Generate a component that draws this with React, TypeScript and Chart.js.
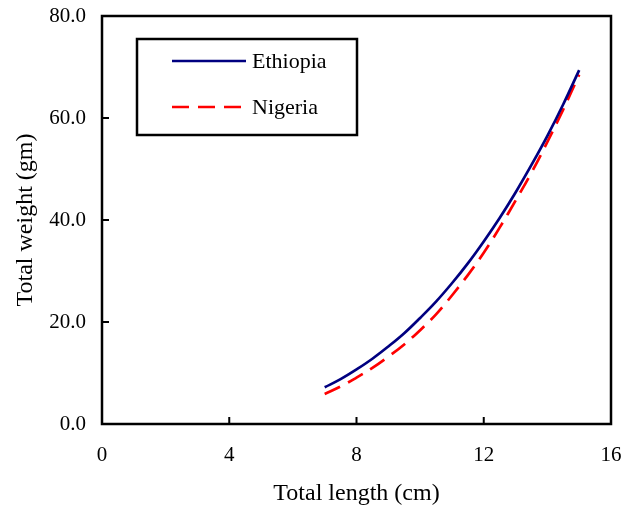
import React, { useEffect, useRef } from "react";
import { Chart, registerables } from "chart.js";

Chart.register(...registerables);

const lengths = [7, 7.5, 8, 8.5, 9, 9.5, 10, 10.5, 11, 11.5, 12, 12.5, 13, 13.5, 14, 14.5, 15];
const ethiopia = [7.2, 8.8, 10.7, 12.8, 15.2, 17.8, 20.8, 24.0, 27.6, 31.5, 35.8, 40.4, 45.4, 50.8, 56.5, 62.7, 69.4];
const nigeria = [5.9, 7.35, 9.1, 11.0, 13.2, 15.6, 18.4, 21.5, 25.2, 29.2, 33.6, 38.5, 43.8, 49.3, 55.3, 61.7, 68.5];
const seriesNames = ["Ethiopia", "Nigeria"];
const xTicks = [0, 4, 8, 12, 16];
const yTicks = [0, 20, 40, 60, 80];
const xTitle = "Total length (cm)";
const yTitle = "Total weight (gm)";

const FONT = "'Liberation Serif', 'Times New Roman', serif";

const framePlugin = {
  id: "frame",
  afterDraw(chart: any) {
    const ctx = chart.ctx;
    const { left, right, top, bottom } = chart.chartArea;
    const xs = chart.scales.x;
    const ys = chart.scales.y;
    ctx.save();
    ctx.strokeStyle = "#000";
    ctx.lineWidth = 2.5;
    ctx.strokeRect(left, top, right - left, bottom - top);
    ctx.lineWidth = 2;
    ctx.beginPath();
    xTicks.forEach((v) => {
      const px = xs.getPixelForValue(v);
      ctx.moveTo(px, bottom);
      ctx.lineTo(px, bottom - 7);
    });
    yTicks.forEach((v) => {
      const py = ys.getPixelForValue(v);
      ctx.moveTo(left, py);
      ctx.lineTo(left + 7, py);
    });
    ctx.stroke();

    // legend box
    const bx = 137, by = 39, bw = 220, bh = 96;
    ctx.lineWidth = 2.5;
    ctx.strokeRect(bx, by, bw, bh);
    const rows = [61, 107];
    chart.data.datasets.forEach((ds: any, i: number) => {
      const y = rows[i];
      ctx.beginPath();
      ctx.strokeStyle = ds.borderColor;
      ctx.lineWidth = ds.borderWidth;
      ctx.setLineDash(ds.borderDash || []);
      ctx.moveTo(172, y);
      ctx.lineTo(246, y);
      ctx.stroke();
      ctx.setLineDash([]);
      ctx.fillStyle = "#000";
      ctx.font = `22px ${FONT}`;
      ctx.textBaseline = "middle";
      ctx.textAlign = "left";
      ctx.fillText(ds.label, 252, y + 1);
    });
    ctx.restore();
  },
};

export default function App() {
  const ref = useRef<HTMLCanvasElement>(null);
  useEffect(() => {
    document.body.style.margin = "0";
    const chart = new Chart(ref.current!, {
      type: "line",
      data: {
        datasets: [
          {
            label: seriesNames[0],
            data: lengths.map((x, i) => ({ x, y: ethiopia[i] })),
            borderColor: "#000080",
            borderWidth: 2.7,
            pointRadius: 0,
            tension: 0.4,
            fill: false,
          },
          {
            label: seriesNames[1],
            data: lengths.map((x, i) => ({ x, y: nigeria[i] })),
            borderColor: "#ff0000",
            borderWidth: 2.7,
            borderDash: [17, 9],
            pointRadius: 0,
            tension: 0.4,
            fill: false,
          },
        ],
      },
      options: {
        animation: false,
        responsive: false,
        devicePixelRatio: 1,
        layout: { padding: { top: 16, right: 13, left: 0, bottom: 0 } },
        plugins: { legend: { display: false }, tooltip: { enabled: false } },
        scales: {
          x: {
            type: "linear",
            min: 0,
            max: 16,
            afterBuildTicks: (s: any) => {
              s.ticks = xTicks.map((v) => ({ value: v }));
            },
            afterFit: (s: any) => {
              s.height = 509 - 424;
              s.paddingLeft = 0;
              s.paddingRight = 0;
            },
            grid: { display: false, drawTicks: false },
            border: { display: false },
            ticks: {
              color: "#000",
              font: { family: FONT, size: 21 },
              padding: 19,
              maxRotation: 0,
              callback: (v: any) => String(v),
            },
            title: {
              display: true,
              text: xTitle,
              color: "#000",
              font: { family: FONT, size: 24 },
              padding: { top: 0, bottom: 1 },
            },
          },
          y: {
            type: "linear",
            min: 0,
            max: 80,
            afterBuildTicks: (s: any) => {
              s.ticks = yTicks.map((v) => ({ value: v }));
            },
            afterFit: (s: any) => {
              s.width = 102;
              s.paddingTop = 0;
              s.paddingBottom = 0;
            },
            grid: { display: false, drawTicks: false },
            border: { display: false },
            ticks: {
              color: "#000",
              font: { family: FONT, size: 21 },
              padding: 16,
              callback: (v: any) => Number(v).toFixed(1),
            },
            title: {
              display: true,
              text: yTitle,
              color: "#000",
              font: { family: FONT, size: 24 },
              padding: { top: 11, bottom: 0 },
            },
          },
        },
      },
      plugins: [framePlugin],
    } as any);
    return () => chart.destroy();
  }, []);
  return (
    <div style={{ position: "absolute", left: 0, top: 0, width: 624, height: 509 }}>
      <canvas ref={ref} width={624} height={509} />
    </div>
  );
}
